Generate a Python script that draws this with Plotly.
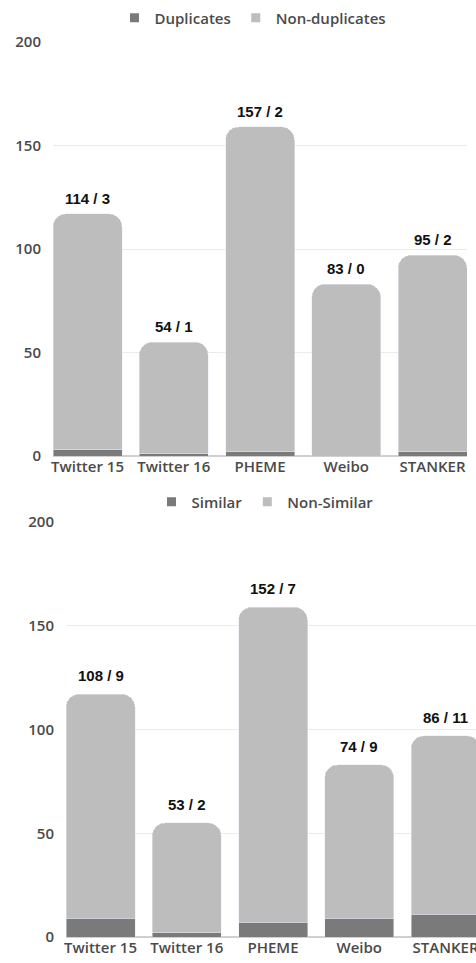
import plotly.graph_objects as go

categories = ["Twitter 15", "Twitter 16", "PHEME", "Weibo", "STANKER"]

# Top chart: duplicates
duplicates = [3, 1, 2, 0, 2]
non_duplicates = [114, 54, 157, 83, 95]

# Bottom chart: similarity
similar = [9, 2, 7, 9, 11]
non_similar = [108, 53, 152, 74, 86]

y_ticks = [0, 50, 100, 150, 200]

DARK = "#7a7a7a"
LIGHT = "#bdbdbd"
TICK_FONT = dict(family="Open Sans", size=15, color="#4a4a4a", weight=600)
YTICK_FONT = dict(family="Open Sans", size=15, color="#4a4a4a", weight=600)
LEGEND_FONT = dict(family="Open Sans", size=15, color="#4a4a4a", weight=600)
LABEL_FONT = dict(family="Liberation Sans", size=15, color="#111111", weight="bold")

W, H = 476, 963
fig = go.Figure()

# top stacked bars
fig.add_trace(go.Bar(x=categories, y=duplicates, marker_color=DARK, showlegend=False,
                     xaxis="x", yaxis="y", hoverinfo="skip"))
fig.add_trace(go.Bar(x=categories, y=non_duplicates, marker_color=LIGHT, showlegend=False,
                     xaxis="x", yaxis="y", hoverinfo="skip"))
# bottom stacked bars
fig.add_trace(go.Bar(x=categories, y=similar, marker_color=DARK, showlegend=False,
                     xaxis="x2", yaxis="y2", hoverinfo="skip"))
fig.add_trace(go.Bar(x=categories, y=non_similar, marker_color=LIGHT, showlegend=False,
                     xaxis="x2", yaxis="y2", hoverinfo="skip"))

# legend entries
for name, col, lg, ax in [("Duplicates", DARK, "legend", ("x", "y")),
                          ("Non-duplicates", LIGHT, "legend", ("x", "y")),
                          ("Similar", DARK, "legend2", ("x2", "y2")),
                          ("Non-Similar", LIGHT, "legend2", ("x2", "y2"))]:
    fig.add_trace(go.Scatter(x=[None], y=[None], mode="markers", name=name,
                             marker=dict(symbol="square", size=9, color=col),
                             legend=lg, xaxis=ax[0], yaxis=ax[1]))

# value labels
annotations = []
for i, c in enumerate(categories):
    annotations.append(dict(x=c, y=duplicates[i] + non_duplicates[i], xref="x", yref="y",
                            text=f"{non_duplicates[i]} / {duplicates[i]}", showarrow=False,
                            yanchor="bottom", yshift=5, font=LABEL_FONT))
    annotations.append(dict(x=c, y=similar[i] + non_similar[i], xref="x2", yref="y2",
                            text=f"{non_similar[i]} / {similar[i]}", showarrow=False,
                            yanchor="bottom", yshift=8, font=LABEL_FONT))

pxu = 414 / 4.8  # pixels per category unit
axis_common = dict(type="category", showgrid=False, zeroline=False, showline=False,
                   ticks="", tickfont=TICK_FONT, fixedrange=True, automargin=False)
yaxis_common = dict(range=[0, 200], tickvals=y_ticks, showgrid=True, gridcolor="#ebebeb",
                    gridwidth=1, zeroline=True, zerolinecolor="#d0d0d0", zerolinewidth=2,
                    tickfont=YTICK_FONT, ticks="", ticklabelstandoff=11, fixedrange=True,
                    automargin=False)

fig.update_layout(
    width=W, height=H,
    margin=dict(l=0, r=0, t=0, b=0, autoexpand=False),
    paper_bgcolor="white", plot_bgcolor="white",
    barmode="stack", bargap=0.2, barcornerradius=13,
    xaxis=dict(domain=[53 / W, 467 / W], range=[-0.4, 4.4], anchor="y", **axis_common),
    yaxis=dict(domain=[1 - 456 / H, 1 - 42 / H], anchor="x", **yaxis_common),
    xaxis2=dict(domain=[66 / W, 1.0], range=[-0.4, -0.4 + 410 / pxu], anchor="y2", **axis_common),
    yaxis2=dict(domain=[1 - 937 / H, 1 - 522 / H], anchor="x2", **yaxis_common),
    legend=dict(orientation="h", x=253 / W, y=1 - 18 / H, xanchor="center", yanchor="middle",
                traceorder="normal", font=LEGEND_FONT, bgcolor="rgba(0,0,0,0)", itemclick=False),
    legend2=dict(orientation="h", x=265 / W, y=1 - 502 / H, xanchor="center", yanchor="middle",
                 traceorder="normal", font=LEGEND_FONT, bgcolor="rgba(0,0,0,0)", itemclick=False),
    annotations=annotations,
    showlegend=True,
)

fig.write_html("out.html", config={"displayModeBar": False})
